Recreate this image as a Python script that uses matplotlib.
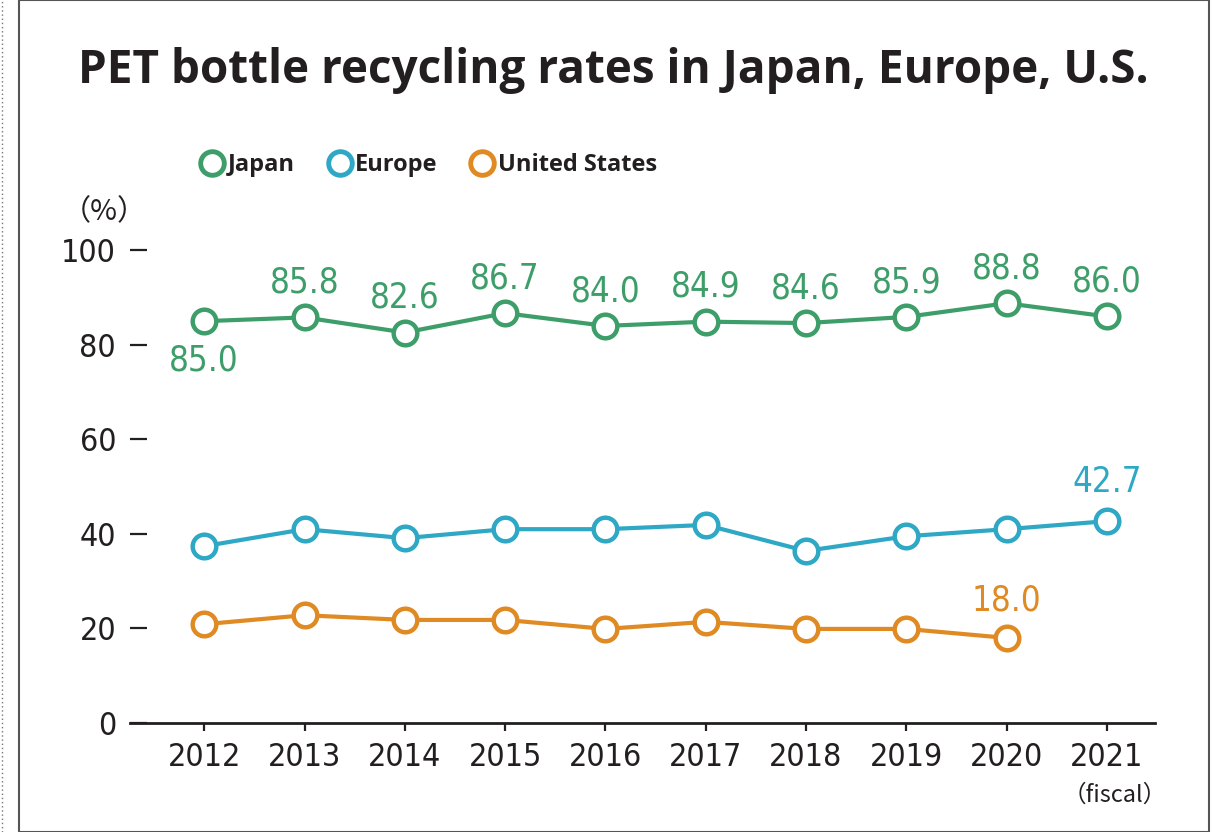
import matplotlib.pyplot as plt
from matplotlib.lines import Line2D
from matplotlib.patches import Rectangle

years = [2012, 2013, 2014, 2015, 2016, 2017, 2018, 2019, 2020, 2021]
japan = [85.0, 85.8, 82.6, 86.7, 84.0, 84.9, 84.6, 85.9, 88.8, 86.0]
europe = [37.4, 41.0, 39.1, 41.0, 41.0, 41.9, 36.4, 39.5, 41.0, 42.7]
us_years = years[:9]
us = [20.9, 22.8, 21.8, 21.8, 19.9, 21.4, 19.9, 19.9, 18.0]

green = '#3e9e6a'
blue = '#2ea8c4'
orange = '#e08a24'
dark = '#231f20'

plt.rcParams['font.family'] = ['DejaVu Sans']
plt.rcParams['font.stretch'] = 'condensed'

fig = plt.figure(figsize=(12.18, 8.32), dpi=100)
ax = fig.add_axes([130 / 1218, 1 - 723 / 832, (1155 - 130) / 1218, (723 - 203) / 832])

for x, y, c in [(years, japan, green), (years, europe, blue), (us_years, us, orange)]:
    ax.plot(x, y, color=c, lw=3, marker='o', ms=17, mfc='white', mec=c, mew=3.2,
            solid_capstyle='round', zorder=3)

# value labels
for i, (yr, v) in enumerate(zip(years, japan)):
    off = -28 if i == 0 else 25
    ax.annotate(f'{v:.1f}', (yr, v), xytext=(0, off), textcoords='offset points',
                ha='center', va='center', fontsize=25, color=green)
ax.annotate(f'{europe[-1]:.1f}', (years[-1], europe[-1]), xytext=(0, 28),
            textcoords='offset points', ha='center', va='center', fontsize=25, color=blue)
ax.annotate(f'{us[-1]:.1f}', (us_years[-1], us[-1]), xytext=(0, 27),
            textcoords='offset points', ha='center', va='center', fontsize=25, color=orange)

ax.set_xlim(2011.26, 2021.48)
ax.set_ylim(0, 110)
ax.set_xticks(years)
ax.set_yticks([0, 20, 40, 60, 80, 100])
ax.tick_params(axis='y', direction='in', length=12, width=1.6, pad=10,
               labelsize=23, colors=dark)
ax.tick_params(axis='x', direction='out', length=6, width=1.6, pad=8,
               labelsize=23, colors=dark)
for s in ['top', 'right', 'left']:
    ax.spines[s].set_visible(False)
ax.spines['bottom'].set_linewidth(2)
ax.spines['bottom'].set_color(dark)
ax.set_facecolor('none')

fig.text(104 / 1218, 1 - 212 / 832, '（%）', fontsize=21, color=dark, ha='center', va='center',
         family=['Noto Sans CJK JP', 'DejaVu Sans'])
fig.text(1115 / 1218, 1 - 795 / 832, '（fiscal）', fontsize=17, color=dark, ha='center',
         va='center', family=['Noto Sans CJK JP', 'DejaVu Sans'])

fig.text(613 / 1218, 1 - 70 / 832, 'PET bottle recycling rates in Japan, Europe, U.S.',
         fontsize=33, fontweight='bold', color=dark, ha='center', va='center',
         family=['Open Sans', 'DejaVu Sans'], stretch='normal')

handles = [Line2D([], [], ls='none', marker='o', ms=17, mfc='white', mec=c, mew=3.5, label=l)
           for c, l in [(green, 'Japan'), (blue, 'Europe'), (orange, 'United States')]]
leg = fig.legend(handles=handles, loc='center left', bbox_to_anchor=(177 / 1218, 1 - 165 / 832),
                 ncol=3, frameon=False, handletextpad=0.05, columnspacing=1.3, handlelength=1.2,
                 prop={'family': ['Open Sans', 'DejaVu Sans'], 'weight': 'bold', 'size': 17,
                       'stretch': 'normal'})
for t in leg.get_texts():
    t.set_color(dark)

# frame
fig.add_artist(Rectangle((19 / 1218, 0), (1209 - 19) / 1218, 1, transform=fig.transFigure,
                         fill=False, ec='#555555', lw=1.5))
fig.add_artist(Line2D([2 / 1218, 2 / 1218], [0, 1], transform=fig.transFigure,
                      color='#777777', lw=1, ls=(0, (1, 2))))

fig.savefig('out.png', dpi=100)
